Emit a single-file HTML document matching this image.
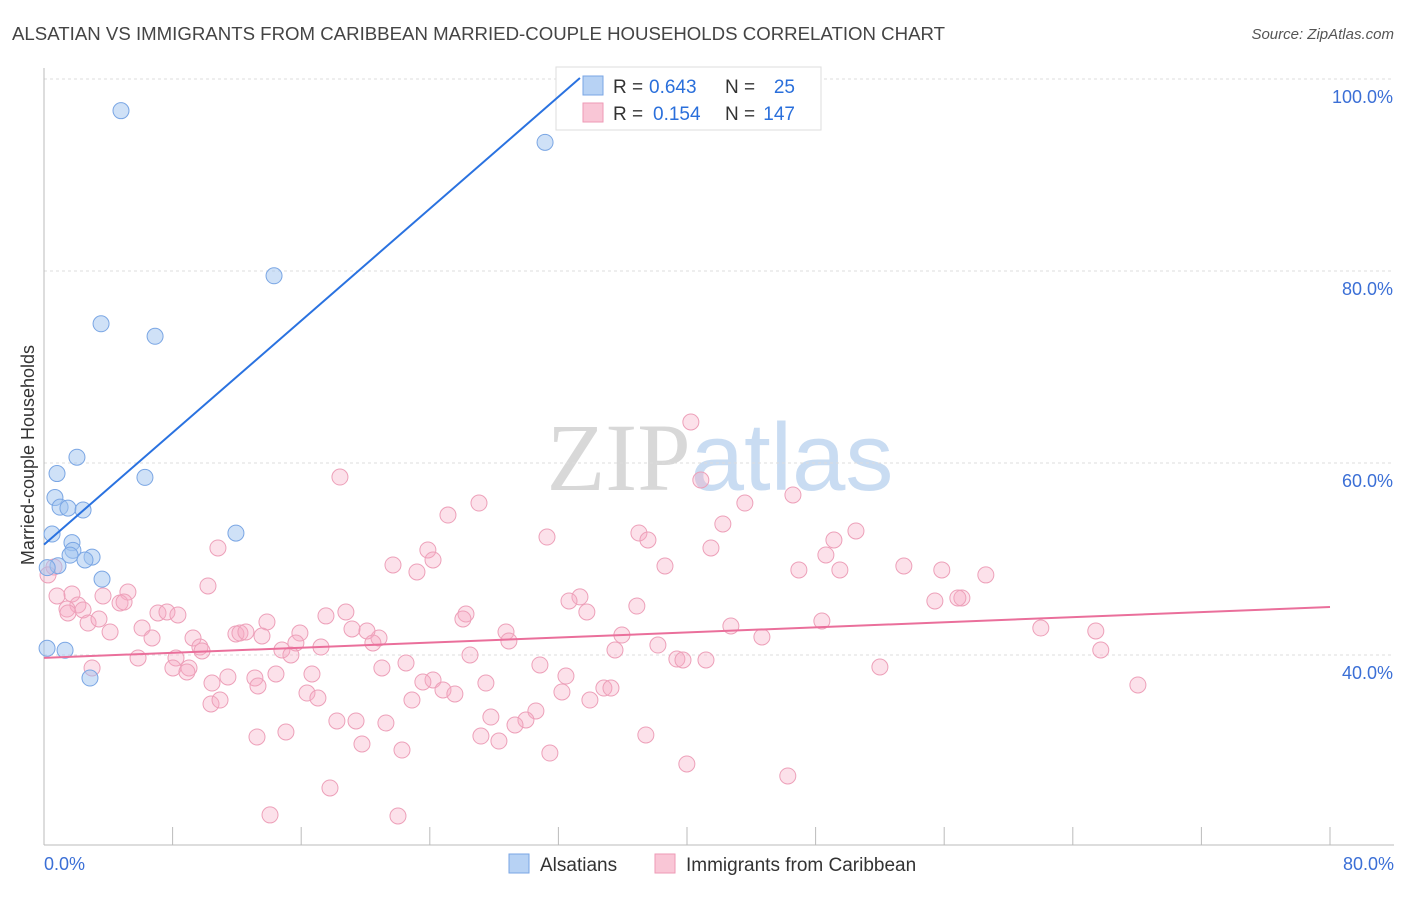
<!DOCTYPE html>
<html><head><meta charset="utf-8"><style>
body{margin:0;background:#fff;font-family:"Liberation Sans",sans-serif;}
svg text{font-family:"Liberation Sans",sans-serif;}
</style></head><body>
<svg id="chart" width="1406" height="892" viewBox="0 0 1406 892" xmlns="http://www.w3.org/2000/svg">
<text x="12" y="40" font-size="18" fill="#444" textLength="933" lengthAdjust="spacingAndGlyphs">ALSATIAN VS IMMIGRANTS FROM CARIBBEAN MARRIED-COUPLE HOUSEHOLDS CORRELATION CHART</text>
<text x="1394" y="39" font-size="15" fill="#555" font-style="italic" text-anchor="end">Source: ZipAtlas.com</text>
<text x="720" y="490" font-size="96" text-anchor="middle"><tspan fill="#d8d8d8" font-family="Liberation Serif">ZIP</tspan><tspan fill="#c9dcf2">atlas</tspan></text>
<g id="grid"></g>
<g id="axes"></g>
<g id="points"></g>
<g>
<rect x="556" y="67" width="265" height="63" fill="#fff" stroke="#ddd"/>
<rect x="583" y="76" width="20" height="19" fill="#b7d2f4" stroke="#7aa6e4"/>
<rect x="583" y="103" width="20" height="19" fill="#f9c6d6" stroke="#ee9ab6"/>
<text x="613" y="93" font-size="19" fill="#333">R =</text>
<text x="649" y="93" font-size="19" fill="#2a6fdb">0.643</text>
<text x="725" y="93" font-size="19" fill="#333">N =</text>
<text x="795" y="93" font-size="19" fill="#2a6fdb" text-anchor="end">25</text>
<text x="613" y="120" font-size="19" fill="#333">R =</text>
<text x="653" y="120" font-size="19" fill="#2a6fdb">0.154</text>
<text x="725" y="120" font-size="19" fill="#333">N =</text>
<text x="795" y="120" font-size="19" fill="#2a6fdb" text-anchor="end">147</text>
</g>
<g id="lines"></g>
<text transform="translate(34,455) rotate(-90)" font-size="18" fill="#333" text-anchor="middle">Married-couple Households</text>
<g>
<rect x="509" y="854" width="20" height="19" fill="#b7d2f4" stroke="#7aa6e4"/>
<text x="540" y="871" font-size="19" fill="#333">Alsatians</text>
<rect x="655" y="854" width="20" height="19" fill="#f9c6d6" stroke="#ee9ab6"/>
<text x="686" y="871" font-size="19" fill="#333">Immigrants from Caribbean</text>
</g>
</svg>
<script>
const xTickVals=[0,8,16,24,32,40,48,56,64,72,80];
const yTickVals=[40,60,80,100];
const yTickLabels=["40.0%","60.0%","80.0%","100.0%"];
const xEndLabels=["0.0%","80.0%"];
const blueX=[4.79,31.17,14.31,3.55,6.91,2.05,0.81,6.28,0.68,1.0,1.49,2.43,0.5,11.94,1.74,1.8,1.62,2.99,2.55,0.87,3.61,0.19,1.31,2.86,0.2];
const blueY=[96.7,93.4,79.5,74.5,73.2,60.6,58.9,58.5,56.4,55.4,55.3,55.1,52.6,52.7,51.7,50.9,50.4,50.2,49.9,49.3,47.9,40.7,40.5,37.6,49.1];
const pinkX=[40.24,18.41,40.86,27.06,46.59,43.6,25.13,42.23,50.51,31.29,37.01,37.57,49.14,10.82,41.49,23.88,48.64,24.2,21.71,38.63,46.96,49.51,53.49,55.85,58.59,23.2,0.62,0.25,10.2,5.22,1.74,0.81,33.34,32.66,57.1,56.85,55.42,3.67,2.11,4.73,4.98,36.88,33.77,1.43,2.43,1.49,7.09,7.65,8.33,18.78,17.54,26.25,26.06,48.39,42.73,2.74,3.42,13.87,6.1,15.92,20.84,19.16,20.09,11.94,12.19,4.11,12.56,13.56,35.95,62.01,65.43,28.74,6.72,9.27,28.92,9.7,15.67,17.23,20.46,44.66,38.19,65.74,14.8,15.36,35.52,26.5,5.85,8.21,9.83,22.52,21.02,30.85,8.02,9.02,8.89,10.45,11.44,13.12,2.99,14.43,16.67,24.2,23.57,27.49,32.47,39.37,39.75,41.18,52.0,68.05,34.83,35.27,24.82,25.56,13.31,10.39,10.95,16.36,17.04,22.89,32.22,33.96,27.8,30.6,18.22,19.41,21.27,29.98,29.3,27.18,28.3,13.25,15.05,37.44,19.78,22.27,31.47,39.99,46.27,17.79,14.06,22.02];
const pinkY=[64.27,58.54,58.23,55.83,56.67,55.83,54.58,53.65,52.92,52.29,52.71,51.98,51.98,51.15,51.15,50.94,50.42,49.9,49.38,49.27,48.86,48.86,49.27,48.86,48.34,48.65,49.17,48.34,47.19,46.56,46.36,46.15,46.05,45.63,45.94,45.94,45.63,46.15,45.21,45.42,45.52,45.1,44.48,44.79,44.69,44.38,44.38,44.48,44.17,44.48,44.07,44.27,43.75,43.54,43.02,43.33,43.75,43.44,42.81,42.29,41.77,42.71,42.5,42.19,42.29,42.4,42.4,41.98,42.08,42.81,42.5,42.4,41.77,41.77,41.46,40.83,41.25,40.83,41.25,41.88,41.04,40.52,40.52,40.0,40.52,40.0,39.69,39.69,40.42,39.17,38.65,38.96,38.65,38.65,38.23,37.08,37.71,37.61,38.65,38.02,38.02,37.4,37.19,37.08,37.81,39.58,39.48,39.48,38.75,36.88,36.56,36.56,36.36,35.94,36.77,34.9,35.31,36.04,35.52,35.31,36.15,35.31,33.54,34.17,33.13,33.13,32.92,33.23,32.71,31.56,31.04,31.46,31.98,31.67,30.73,30.1,29.79,28.65,27.4,26.15,23.34,23.23];
const blueLineX=[0,33.34];
const blueLineY=[51.5,100.1];
const pinkLineX=[0,80];
const pinkLineY=[39.7,45.0];

const NS="http://www.w3.org/2000/svg";
const sx=v=>44+v*(1286/80);
const sy=v=>79+(100-v)*9.6;
function mk(tag,attrs,parent){const e=document.createElementNS(NS,tag);for(const k in attrs)e.setAttribute(k,attrs[k]);document.getElementById(parent).appendChild(e);return e;}

yTickVals.forEach((v,i)=>{
  const g=mk('line',{x1:44,x2:1394,y1:sy(v),y2:sy(v),stroke:'#ddd','stroke-dasharray':'3,3'},'grid');
  
  
  const t=mk('text',{x:1393,y:sy(v)+24,'font-size':18,fill:'#3b6fd6','text-anchor':'end'},'axes');
  t.textContent=yTickLabels[i];
  
  
});
const ax=mk('line',{x1:44,x2:44,y1:68,y2:845,stroke:'#bbb'},'axes');


const bx=mk('line',{x1:44,x2:1394,y1:845,y2:845,stroke:'#bbb'},'axes');


xTickVals.forEach(v=>{
  const t=mk('line',{x1:sx(v),x2:sx(v),y1:827,y2:845,stroke:'#bbb'},'axes');
  
  
});
[[0,'start',44],[80,'end',1394]].forEach((d,i)=>{
  const t=mk('text',{x:d[2],y:870,'font-size':18,fill:'#3b6fd6','text-anchor':d[1]},'axes');
  t.textContent=xEndLabels[i];
  
  
});
pinkX.forEach((x,i)=>{
  const c=mk('circle',{cx:sx(x),cy:sy(pinkY[i]),r:8,fill:'rgba(246,170,195,0.35)',stroke:'#eda0b9','stroke-width':1},'points');
  
  
});
blueX.forEach((x,i)=>{
  const c=mk('circle',{cx:sx(x),cy:sy(blueY[i]),r:8,fill:'rgba(160,195,240,0.5)',stroke:'#7aa6e4','stroke-width':1},'points');
  
  
});
const bl=mk('line',{x1:sx(blueLineX[0]),y1:sy(blueLineY[0]),x2:sx(blueLineX[1]),y2:sy(blueLineY[1]),stroke:'#2a72e0','stroke-width':2},'lines');


const pl=mk('line',{x1:sx(pinkLineX[0]),y1:sy(pinkLineY[0]),x2:sx(pinkLineX[1]),y2:sy(pinkLineY[1]),stroke:'#ea6f9b','stroke-width':2},'lines');


</script>
</body></html>
